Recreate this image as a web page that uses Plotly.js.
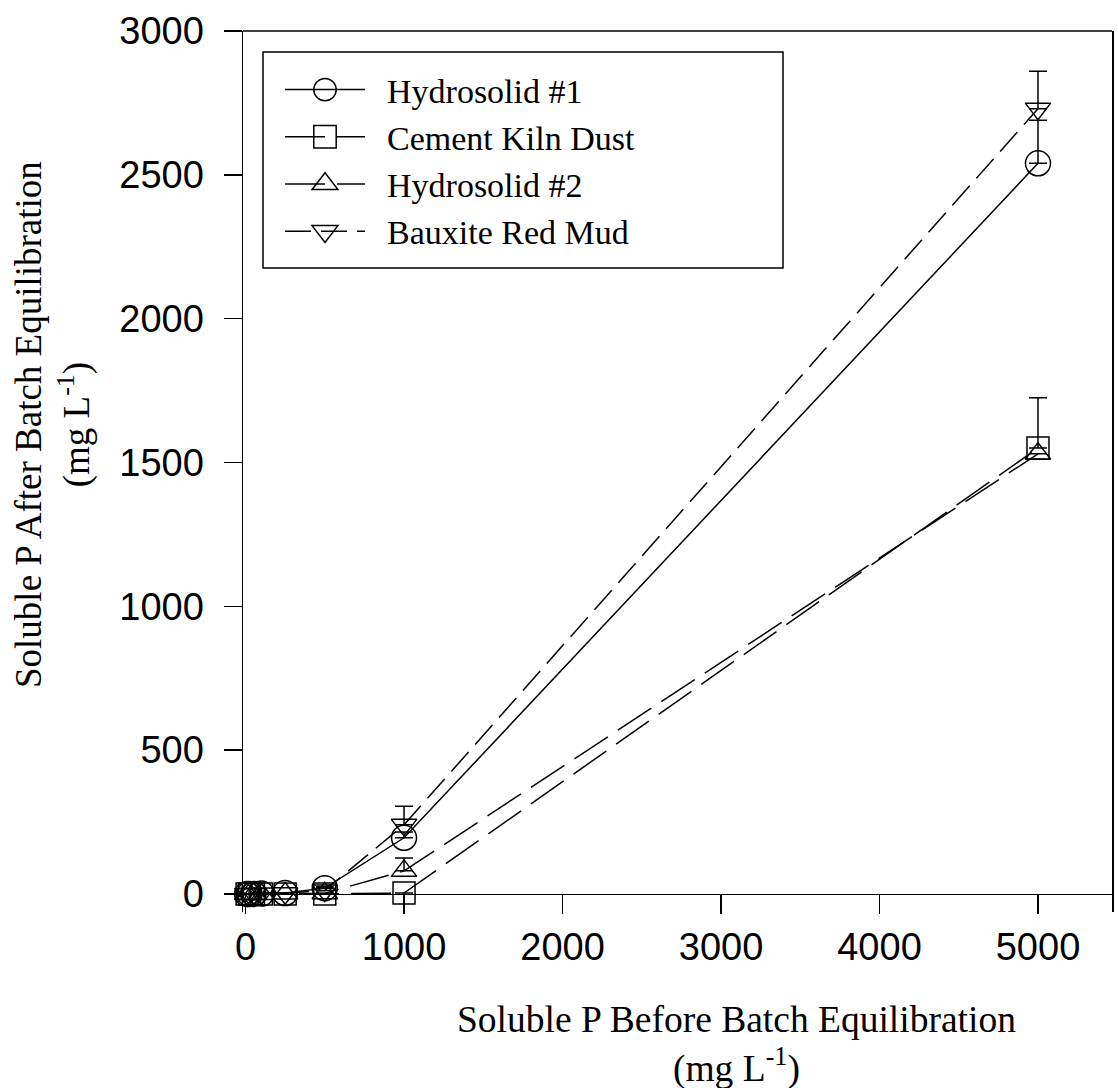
<!DOCTYPE html>
<html>
<head>
<meta charset="utf-8">
<script src="https://cdn.plot.ly/plotly-3.0.1.min.js"></script>
<style>
html,body{margin:0;padding:0;background:#fff;}
#chart{width:1118px;height:1088px;}
</style>
</head>
<body>
<div id="chart"></div>
<script>
// Data
const seriesNames = ["Hydrosolid #1", "Cement Kiln Dust", "Hydrosolid #2", "Bauxite Red Mud"];
const pBefore = [10, 25, 50, 100, 250, 500, 1000, 5000];
const hydrosolid1 = [0, 0, 0, 1, 3, 20, 195, 2540];
const hydrosolid1Err = [0, 0, 0, 0, 0, 5, 20, 150];
const cementKilnDust = [0, 0, 0, 0, 0, 0, 3, 1550];
const cementKilnDustErr = [0, 0, 0, 0, 0, 0, 0, 175];
const hydrosolid2 = [0, 0, 0, 0, 1, 2, 80, 1530];
const hydrosolid2Err = [0, 0, 0, 0, 0, 0, 45, 0];
const bauxiteRedMud = [0, 0, 0, 1, 2, 12, 240, 2730];
const bauxiteRedMudErr = [0, 0, 0, 0, 0, 0, 65, 130];
const xTicks = [0, 1000, 2000, 3000, 4000, 5000];
const yTicks = [0, 500, 1000, 1500, 2000, 2500, 3000];

const values = [hydrosolid1, cementKilnDust, hydrosolid2, bauxiteRedMud];
const errs = [hydrosolid1Err, cementKilnDustErr, hydrosolid2Err, bauxiteRedMudErr];
const symbols = ["circle-open", "square-open", "triangle-up-open", "triangle-down-open"];
const sizes = [25, 22, 22, 22];
const dashes = ["solid", "40px,12px", "40px,12px", "26px,10px"];

const traces = values.map((v, i) => ({
  type: "scatter",
  mode: "lines+markers",
  name: "\u2002" + seriesNames[i],
  x: pBefore,
  y: v,
  line: {color: "#000", width: 1.5, dash: dashes[i]},
  marker: {symbol: symbols[i], size: sizes[i], color: "#000", line: {color: "#000", width: 1.5}},
  error_y: {type: "data", symmetric: false, array: errs[i], arrayminus: errs[i].map(() => 0),
            color: "#000", thickness: 1.5, width: 9},
  cliponaxis: false
}));

const W = 1118, H = 1088;
const L = 243, R = 6, T = 31, B = 176;
const pw = W - L - R, ph = H - T - B;
const px = (x) => (x - L) / pw;
const py = (y) => (H - B - y) / ph;
const yMin = -63, yMax = 3000;
const serif = "Liberation Serif, Times New Roman, serif";
const sans = "Liberation Sans, Arial, sans-serif";

const layout = {
  width: W, height: H,
  margin: {l: L, r: R, t: T, b: B},
  paper_bgcolor: "#fff", plot_bgcolor: "#fff",
  font: {family: sans, color: "#000"},
  showlegend: true,
  legend: {
    x: px(280), y: py(61), xanchor: "left", yanchor: "top",
    bgcolor: "rgba(0,0,0,0)", borderwidth: 0,
    font: {family: serif, size: 34, color: "#000"},
    itemwidth: 80, tracegroupgap: 0
  },
  xaxis: {
    range: [-16, 5467], tickvals: xTicks, ticktext: xTicks.map(String),
    showgrid: false, zeroline: false, showline: true, linecolor: "#000", linewidth: 1.5,
    ticks: "outside", ticklen: 19, tickwidth: 1.5, tickcolor: "#000",
    tickfont: {family: sans, size: 38, color: "#000"},
    anchor: "free", position: (0 - yMin) / (yMax - yMin)
  },
  yaxis: {
    range: [yMin, yMax], tickvals: yTicks, ticktext: yTicks.map(String),
    showgrid: false, zeroline: false, showline: true, linecolor: "#000", linewidth: 1.5,
    mirror: true,
    ticks: "outside", ticklen: 18, tickwidth: 1.5, tickcolor: "#000",
    ticklabelstandoff: 12,
    tickfont: {family: sans, size: 38, color: "#000"}
  },
  shapes: [
    {type: "line", xref: "paper", yref: "paper", x0: 0, x1: 1, y0: 1, y1: 1,
     line: {color: "#000", width: 1.5}},
    {type: "rect", xref: "paper", yref: "paper", x0: px(263), x1: px(783), y0: py(268), y1: py(52),
     line: {color: "#000", width: 1.5}, fillcolor: "rgba(0,0,0,0)"}
  ],
  annotations: [
    {xref: "paper", yref: "paper", x: px(736), y: py(997), xanchor: "center", yanchor: "top",
     text: "Soluble P Before Batch Equilibration<br>(mg L<sup>-1</sup>)", showarrow: false,
     font: {family: serif, size: 37.5, color: "#000"}},
    {xref: "paper", yref: "paper", x: px(6), y: py(425), xanchor: "left", yanchor: "middle",
     textangle: -90,
     text: "Soluble P After Batch Equilibration<br>(mg L<sup>-1</sup>)", showarrow: false,
     font: {family: serif, size: 37, color: "#000"}}
  ]
};

Plotly.newPlot("chart", traces, layout, {displayModeBar: false, staticPlot: true}).then((gd) => {
  // enlarge the legend symbols (Plotly caps them at 16px) to match the figure
  const k = 1.4;
  gd.querySelectorAll(".legend .legendpoints path.scatterpts").forEach((p) => {
    const t = p.getAttribute("transform") || "";
    p.setAttribute("transform", t + " scale(" + k + ")");
    p.style.strokeWidth = (1.5 / k) + "px";
  });
});
</script>
</body>
</html>
